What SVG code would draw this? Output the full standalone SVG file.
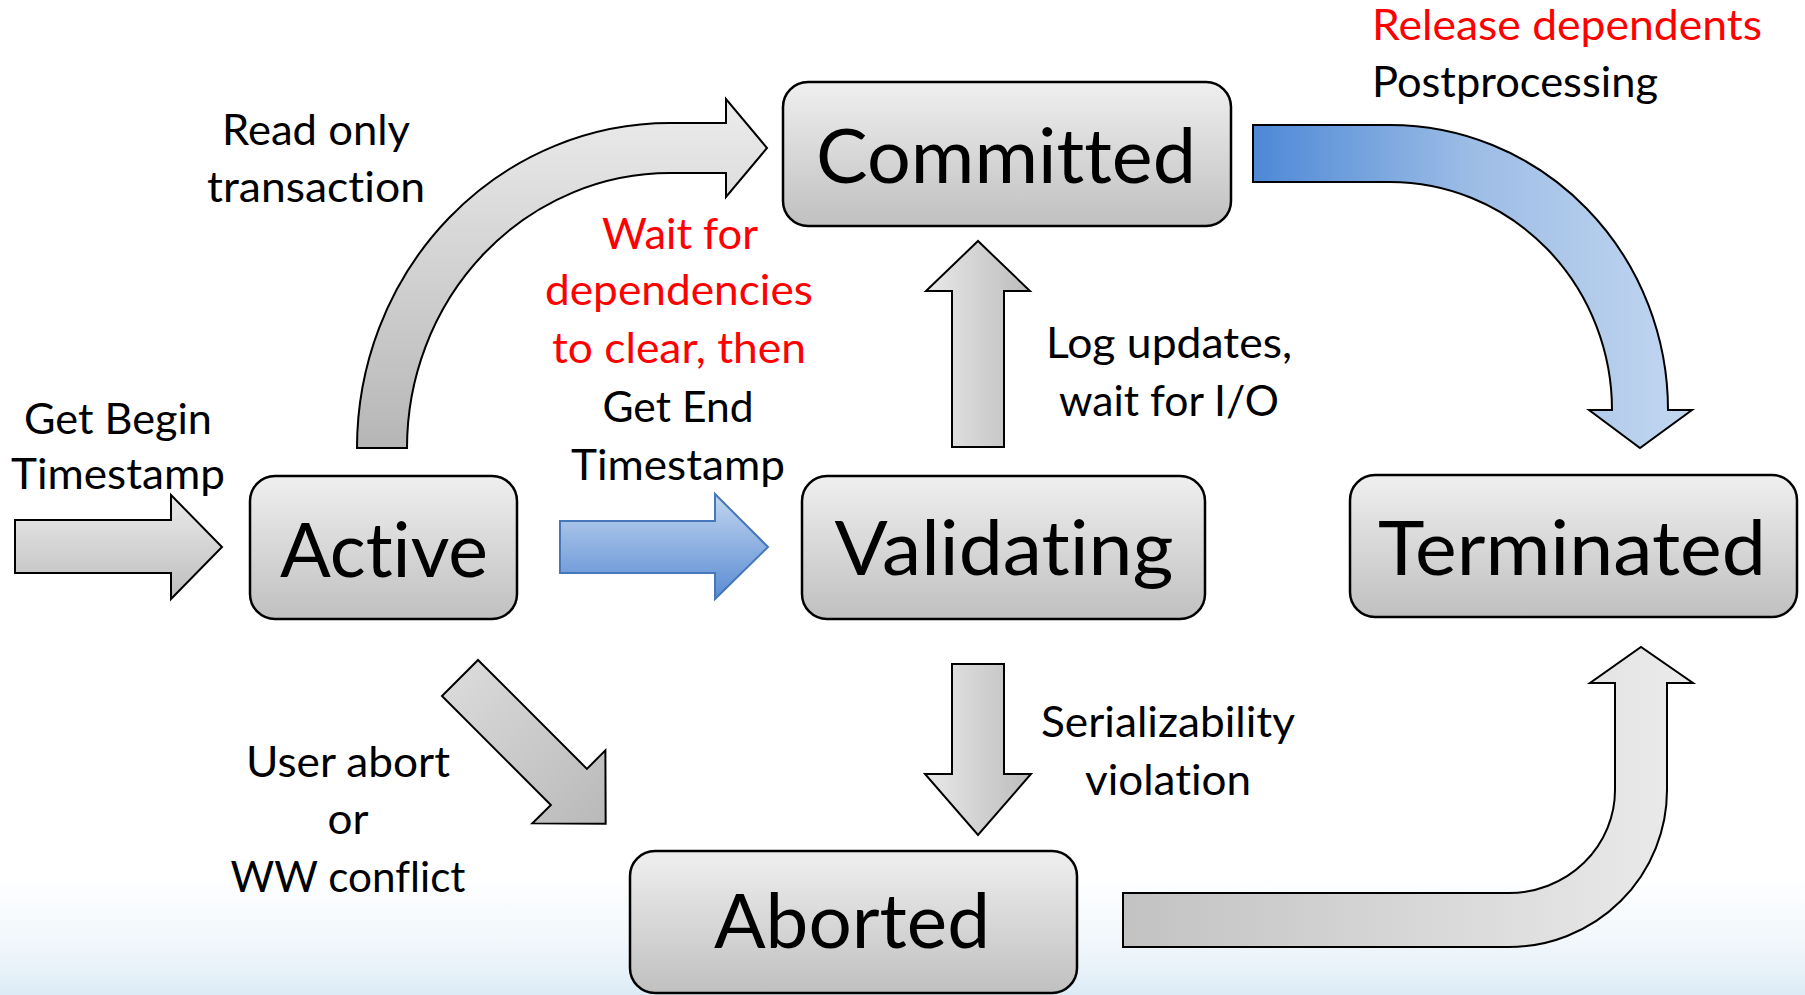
<svg xmlns="http://www.w3.org/2000/svg" width="1805" height="995" viewBox="0 0 1805 995">
  <defs>
    <style>
      .node rect { fill: url(#boxFill); stroke: #000; stroke-width: 2.5; }
      .node text { font-family: Lato, "Liberation Sans", sans-serif; font-size: 76px; fill: #000; text-anchor: middle; font-variant-ligatures: none; }
      .lbl { font-family: Lato, "Liberation Sans", sans-serif; font-size: 43px; fill: #000; text-anchor: middle; font-variant-ligatures: none; }
      .red { fill: #ff0000; }
      .arr { stroke: #000; stroke-width: 2; stroke-linejoin: miter; }
    </style>
    <linearGradient id="boxFill" x1="0" y1="0" x2="0" y2="1">
      <stop offset="0" stop-color="#efefef"/>
      <stop offset="1" stop-color="#c0c0c0"/>
    </linearGradient>
    <linearGradient id="grayV" x1="0" y1="0" x2="0" y2="1">
      <stop offset="0" stop-color="#ebebeb"/>
      <stop offset="1" stop-color="#bdbdbd"/>
    </linearGradient>
    <linearGradient id="grayH" x1="0" y1="0" x2="1" y2="0">
      <stop offset="0" stop-color="#e9e9e9"/>
      <stop offset="1" stop-color="#bcbcbc"/>
    </linearGradient>
    <linearGradient id="grayCurveUp" gradientUnits="userSpaceOnUse" x1="0" y1="99" x2="0" y2="448">
      <stop offset="0" stop-color="#ececec"/>
      <stop offset="1" stop-color="#b6b6b6"/>
    </linearGradient>
    <linearGradient id="grayCurveBottom" gradientUnits="userSpaceOnUse" x1="1123" y1="0" x2="1693" y2="0">
      <stop offset="0" stop-color="#c2c2c2"/>
      <stop offset="1" stop-color="#ebebeb"/>
    </linearGradient>
    <linearGradient id="grayDiag" x1="0" y1="0" x2="1" y2="0">
      <stop offset="0" stop-color="#d9d9d9"/>
      <stop offset="1" stop-color="#b9b9b9"/>
    </linearGradient>
    <linearGradient id="blueV" x1="0" y1="0" x2="0" y2="1">
      <stop offset="0" stop-color="#c2d6f0"/>
      <stop offset="1" stop-color="#5a8cd3"/>
    </linearGradient>
    <linearGradient id="blueCurve" gradientUnits="userSpaceOnUse" x1="1253" y1="0" x2="1692" y2="0">
      <stop offset="0" stop-color="#4d88d6"/>
      <stop offset="0.5" stop-color="#9dbde6"/>
      <stop offset="1" stop-color="#c3d7f0"/>
    </linearGradient>
    <linearGradient id="hazeV" x1="0" y1="0" x2="0" y2="1">
      <stop offset="0" stop-color="#e4f0f8" stop-opacity="0"/>
      <stop offset="0.6" stop-color="#deecf6" stop-opacity="0.45"/>
      <stop offset="1" stop-color="#d3e6f3" stop-opacity="0.8"/>
    </linearGradient>
    <radialGradient id="hazeL" cx="0.5" cy="1" r="0.5">
      <stop offset="0" stop-color="#8fc0de" stop-opacity="1"/>
      <stop offset="0.5" stop-color="#b2d4e9" stop-opacity="0.7"/>
      <stop offset="1" stop-color="#ffffff" stop-opacity="0"/>
    </radialGradient>
  </defs>

  <!-- slide backdrop with soft blue wash along the bottom -->
  <g id="background">
    <rect x="0" y="0" width="1805" height="995" fill="#ffffff"/>
    <rect x="0" y="870" width="1805" height="125" fill="url(#hazeV)"/>
    <ellipse cx="360" cy="1005" rx="780" ry="125" fill="url(#hazeL)"/>
  </g>

  <!-- transition arrows -->
  <g id="connectors">
    <!-- entry: Get Begin Timestamp -->
    <polygon class="arr" fill="url(#grayV)" points="15,520 171,520 171,495 222,547 171,599 171,573 15,573"/>
    <!-- Active to Validating -->
    <polygon fill="url(#blueV)" stroke="#4677bb" stroke-width="2" points="560,521 715,521 715,494 768,547 715,599 715,573 560,573"/>
    <!-- Active to Committed (read only) -->
    <path class="arr" fill="url(#grayCurveUp)" d="M357 448 A313 325 0 0 1 670 123 L726 123 L726 99 L767 148 L726 197 L726 173 L670 173 A263 275 0 0 0 407 448 Z"/>
    <!-- Validating to Committed -->
    <polygon class="arr" fill="url(#grayH)" points="952,447 952,291 926,291 978,241 1030,291 1004,291 1004,447"/>
    <!-- Validating to Aborted -->
    <polygon class="arr" fill="url(#grayH)" points="952,664 1004,664 1004,774 1031,774 978,835 925,774 952,774"/>
    <!-- Active to Aborted -->
    <polygon class="arr" fill="url(#grayDiag)" transform="translate(460,678) rotate(45)" points="0,-25.5 154,-25.5 154,-51.6 206,0 154,51.6 154,25.5 0,25.5"/>
    <!-- Committed to Terminated -->
    <path class="arr" fill="url(#blueCurve)" d="M1253 125 L1390 125 A278 285 0 0 1 1668 410 L1692 410 L1640 448 L1589 410 L1612 410 A222 228 0 0 0 1390 182 L1253 182 Z"/>
    <!-- Aborted to Terminated -->
    <path class="arr" fill="url(#grayCurveBottom)" d="M1123 893 L1509 893 A106 103 0 0 0 1615 790 L1615 683 L1590 683 L1641 647 L1693 683 L1667 683 L1667 790 A158 157 0 0 1 1509 947 L1123 947 Z"/>
  </g>

  <!-- states -->
  <g id="node-active" class="node">
    <rect x="250" y="476" width="267" height="143" rx="25"/>
    <text x="384" y="577" textLength="208" lengthAdjust="spacingAndGlyphs">Active</text>
  </g>
  <g id="node-committed" class="node">
    <rect x="783" y="82" width="448" height="144" rx="25"/>
    <text x="1006" y="183" textLength="380" lengthAdjust="spacingAndGlyphs">Committed</text>
  </g>
  <g id="node-validating" class="node">
    <rect x="802" y="476" width="403" height="143" rx="25"/>
    <text x="1004" y="575" textLength="339" lengthAdjust="spacingAndGlyphs">Validating</text>
  </g>
  <g id="node-terminated" class="node">
    <rect x="1350" y="475" width="447" height="142" rx="25"/>
    <text x="1572" y="575" textLength="388" lengthAdjust="spacingAndGlyphs">Terminated</text>
  </g>
  <g id="node-aborted" class="node">
    <rect x="630" y="851" width="447" height="142" rx="25"/>
    <text x="852" y="948" textLength="276" lengthAdjust="spacingAndGlyphs">Aborted</text>
  </g>

  <!-- transition labels -->
  <g id="labels">
    <text class="lbl" x="118" y="434" textLength="188" lengthAdjust="spacingAndGlyphs">Get Begin</text>
    <text class="lbl" x="118" y="489" textLength="214" lengthAdjust="spacingAndGlyphs">Timestamp</text>

    <text class="lbl" x="316" y="145" textLength="188" lengthAdjust="spacingAndGlyphs">Read only</text>
    <text class="lbl" x="316" y="202" textLength="218" lengthAdjust="spacingAndGlyphs">transaction</text>

    <text class="lbl red" x="680" y="249" textLength="156" lengthAdjust="spacingAndGlyphs">Wait for</text>
    <text class="lbl red" x="679" y="305" textLength="268" lengthAdjust="spacingAndGlyphs">dependencies</text>
    <text class="lbl red" x="679" y="363" textLength="254" lengthAdjust="spacingAndGlyphs">to clear, then</text>
    <text class="lbl" x="678" y="422" textLength="151" lengthAdjust="spacingAndGlyphs">Get End</text>
    <text class="lbl" x="678" y="480" textLength="214" lengthAdjust="spacingAndGlyphs">Timestamp</text>

    <text class="lbl" x="1169" y="358" textLength="246" lengthAdjust="spacingAndGlyphs">Log updates,</text>
    <text class="lbl" x="1169" y="416" textLength="220" lengthAdjust="spacingAndGlyphs">wait for I/O</text>

    <text class="lbl" x="1168" y="737" textLength="254" lengthAdjust="spacingAndGlyphs">Serializability</text>
    <text class="lbl" x="1168" y="795" textLength="166" lengthAdjust="spacingAndGlyphs">violation</text>

    <text class="lbl" x="348" y="777" textLength="204" lengthAdjust="spacingAndGlyphs">User abort</text>
    <text class="lbl" x="348" y="834" textLength="41" lengthAdjust="spacingAndGlyphs">or</text>
    <text class="lbl" x="348" y="892" textLength="235" lengthAdjust="spacingAndGlyphs">WW conflict</text>

    <text class="lbl red" x="1372" y="40" style="text-anchor:start" textLength="390" lengthAdjust="spacingAndGlyphs">Release dependents</text>
    <text class="lbl" x="1372" y="97" style="text-anchor:start" textLength="286" lengthAdjust="spacingAndGlyphs">Postprocessing</text>
  </g>
</svg>
